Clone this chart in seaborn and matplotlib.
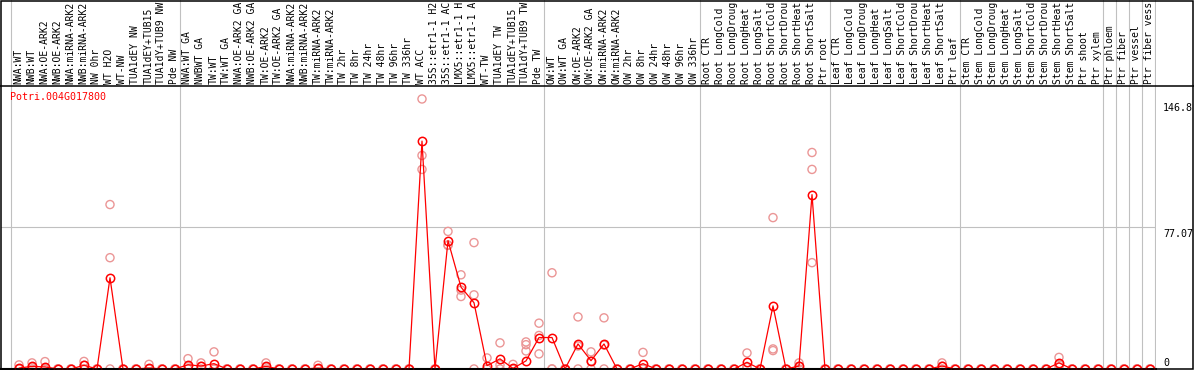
import numpy as np
import pandas as pd
import matplotlib
matplotlib.use('Agg')
import matplotlib.pyplot as plt
from matplotlib.patches import Rectangle
from matplotlib.lines import Line2D
import seaborn as sns

gene = 'Potri.004G017800'

samples = ['NWA:WT', 'NWB:WT', 'NWA:OE-ARK2', 'NWB:OE-ARK2', 'NWA:miRNA-ARK2', 'NWB:miRNA-ARK2',
           'NW 0hr', 'WT H2O', 'WT-NW', 'TUA1dEY NW', 'TUA1dEY+TUB15 NW', 'TUA1dY+TUB9 NW', 'Pde NW',
           'NWA:WT GA', 'NWBWT GA', 'TW:WT', 'TW:WT GA', 'NWA:OE-ARK2 GA', 'NWB:OE-ARK2 GA',
           'TW:OE-ARK2', 'TW:OE-ARK2 GA', 'NWA:miRNA-ARK2 GA', 'NWB:miRNA-ARK2 GA', 'TW:miRNA-ARK2',
           'TW:miRNA-ARK2 GA', 'TW 2hr', 'TW 8hr', 'TW 24hr', 'TW 48hr', 'TW 96hr', 'TW 336hr',
           'WT ACC', '35S::etr1-1 H2O', '35S::etr1-1 ACC', 'LMX5::etr1-1 H2O', 'LMX5::etr1-1 ACC',
           'WT-TW', 'TUA1dEY TW', 'TUA1dEY+TUB15 TW', 'TUA1dY+TUB9 TW', 'Pde TW',
           'OW:WT', 'OW:WT GA', 'OW:OE-ARK2', 'OW:OE-ARK2 GA', 'OW:miRNA-ARK2', 'OW:miRNA-ARK2 GA',
           'OW 2hr', 'OW 8hr', 'OW 24hr', 'OW 48hr', 'OW 96hr', 'OW 336hr',
           'Root CTR', 'Root LongCold', 'Root LongDrought', 'Root LongHeat', 'Root LongSalt',
           'Root ShortCold', 'Root ShortDrought', 'Root ShortHeat', 'Root ShortSalt', 'Ptr root',
           'Leaf CTR', 'Leaf LongCold', 'Leaf LongDrought', 'Leaf LongHeat', 'Leaf LongSalt',
           'Leaf ShortCold', 'Leaf ShortDrought', 'Leaf ShortHeat', 'Leaf ShortSalt', 'Ptr leaf',
           'Stem CTR', 'Stem LongCold', 'Stem LongDrought', 'Stem LongHeat', 'Stem LongSalt',
           'Stem ShortCold', 'Stem ShortDrought', 'Stem ShortHeat', 'Stem ShortSalt', 'Ptr shoot',
           'Ptr xylem', 'Ptr phloem', 'Ptr fiber', 'Ptr vessel', 'Ptr fiber vessel']

# mean expression per sample
means = [0.5, 1.4, 1.1, 0, 0, 2.0, 0, 49.6, 0, 0,
         0.5, 0, 0, 2.3, 1.6, 2.9, 0, 0, 0, 1.4,
         0, 0, 0, 0.5, 0, 0, 0, 0, 0, 0,
         0, 123.9, 0, 69.8, 44.5, 36.0, 1.8, 5.5, 0.3, 4.4,
         17.1, 17.1, 0, 13.6, 4.5, 13.6, 0, 0, 2.9, 0,
         0, 0, 0, 0, 0, 0, 3.6, 0, 34.3, 0,
         1.6, 94.8, 0, 0, 0, 0, 0, 0, 0, 0,
         0, 1.6, 0, 0, 0, 0, 0, 0, 0, 0,
         3.3, 0, 0, 0, 0, 0, 0, 0]

# replicates
rep_a = [2.2, 3.3, 4.0, 0, 0, 4.1, 0, 89.4, 0, 0,
         2.5, 0, 0, 5.6, 3.3, 9.3, 0, 0, 0, 3.3,
         0, 0, 0, 2.0, 0, 0, 0, 0, 0, 0,
         0, 146.8, 0, 74.8, 51.2, 68.7, 6.0, 14.2, 2.5, 14.7,
         24.9, 52.3, 0, 28.3, 9.3, 27.8, 0, 0, 9.0, 0,
         0, 0, 0, 0, 0, 0, 8.7, 0, 82.3, 0,
         3.3, 117.7, 0, 0, 0, 0, 0, 0, 0, 0,
         0, 3.3, 0, 0, 0, 0, 0, 0, 0, 0,
         6.3, 0, 0, 0, 0, 0, 0, 0]
rep_b = [0, 1.0, 0, 0, 0, 2.0, 0, 60.5, 0, 0,
         0, 0, 0, 1.3, 1.4, 0, 0, 0, 0, 1.0,
         0, 0, 0, 0, 0, 0, 0, 0, 0, 0,
         0, 116.1, 0, 67.2, 39.4, 40.3, 0, 2.3, 0, 13.2,
         8.2, 0, 0, 12.5, 4.2, 13.0, 0, 0, 0, 0,
         0, 0, 0, 0, 0, 0, 1.3, 0, 10.9, 0,
         1.5, 108.5, 0, 0, 0, 0, 0, 0, 0, 0,
         0, 1.5, 0, 0, 0, 0, 0, 0, 0, 0,
         2.5, 0, 0, 0, 0, 0, 0, 0]
rep_c = [0, 0, 0, 0, 0, 0, 0, 0, 0, 0,
         0, 0, 0, 0, 0, 0, 0, 0, 0, 0,
         0, 0, 0, 0, 0, 0, 0, 0, 0, 0,
         0, 108.5, 0, 67.4, 42.9, 0, 0, 0, 0, 9.8,
         18.2, 0, 0, 0, 0, 0, 0, 0, 0, 0,
         0, 0, 0, 0, 0, 0, 0.8, 0, 10.0, 0,
         0, 57.8, 0, 0, 0, 0, 0, 0, 0, 0,
         0, 0, 0, 0, 0, 0, 0, 0, 0, 0,
         1.2, 0, 0, 0, 0, 0, 0, 0]

group_edges = [0, 13, 41, 53, 63, 73, 84, 85, 86, 87, 88]
y_labels = ['0', '77.07', '146.8']

sns.set_style('white')
plt.rcParams['font.family'] = ['DejaVu Sans Mono']

W, H = 1194, 370
fig = plt.figure(figsize=(W / 100, H / 100), dpi=100)

# pixel helpers
def fx(px):
    return px / W

def fy(py):
    return 1 - py / H

top_px, bot_px, left_px, right_px = 86, 369, 1, 1155.7
scale = 0.545  # value per pixel
x0 = (left_px - 19) / 13
x1 = (right_px - 19) / 13

ax = fig.add_axes([fx(left_px), fy(bot_px), fx(right_px - left_px), (bot_px - top_px) / H])
ax_lab = fig.add_axes([fx(left_px), fy(top_px), fx(right_px - left_px), top_px / H])

pos = np.arange(len(samples))
reps = pd.DataFrame({'pos': np.tile(pos, 3),
                     'value': np.concatenate([rep_a, rep_b, rep_c])})
mean_df = pd.DataFrame({'pos': pos, 'value': means})

grid = '#c0c0c0'
for e in group_edges:
    ax.axvline(e - 0.615, color=grid, lw=0.8, zorder=0)
    ax_lab.axvline(e - 0.615, color=grid, lw=0.8, zorder=0)
ax.axhline(77.07, color=grid, lw=0.8, zorder=0)

sns.scatterplot(data=reps, x='pos', y='value', ax=ax, marker='o', s=34,
                facecolor='none', edgecolor='#eb9696', linewidth=1.0, zorder=2, clip_on=False)
sns.lineplot(data=mean_df, x='pos', y='value', ax=ax, color='red', linewidth=0.9,
             marker='o', markersize=6, markerfacecolor='none', markeredgecolor='red',
             markeredgewidth=1.1, estimator=None, sort=False, zorder=3, clip_on=False)

ax.set_xlim(x0, x1)
ax.set_ylim(-(368.3 - bot_px + 0.0) * scale - 0.4, (368.3 - top_px) * scale)
ax.set_xlabel('')
ax.set_ylabel('')
ax.set_xticks([])
ax.set_yticks([])
for s in ['top', 'right', 'left']:
    ax.spines[s].set_visible(False)
ax.spines['bottom'].set_color('black')
ax.spines['bottom'].set_linewidth(1.5)

ax_lab.set_xlim(x0, x1)
ax_lab.set_ylim(0, 1)
ax_lab.axis('off')
# the header only has room for 14 characters, like the original page
for i, name in enumerate(samples):
    ax_lab.text(i - 0.05, (top_px - 84) / top_px, name[:14].rstrip(), rotation=90,
                ha='center', va='bottom', fontsize=7.05, color='black')

fig.text(fx(10), fy(91.5), gene, color='red', fontsize=7.2, ha='left', va='top')

for lab, base in zip(y_labels, [366, 236.7, 110.7]):
    fig.text(fx(1163), fy(base), lab, fontsize=7.2, ha='left', va='baseline', color='black')

fig.add_artist(Rectangle((fx(1), fy(369)), fx(1192), 368 / H, transform=fig.transFigure,
                         fill=False, edgecolor='black', linewidth=1.1))
fig.add_artist(Line2D([0, 1], [fy(top_px), fy(top_px)], transform=fig.transFigure,
                      color='black', linewidth=1.1))

fig.savefig('out.png', dpi=100, facecolor='white')
